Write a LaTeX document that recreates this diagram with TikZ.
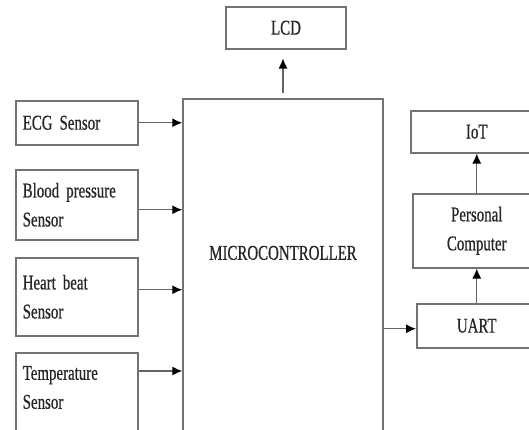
\documentclass[tikz,border=0pt]{standalone}
\usepackage{fontspec}
\setmainfont[FakeStretch=0.71,FakeBold=0.6]{Liberation Serif}
\usetikzlibrary{arrows.meta}
\newcommand\boxfont{\fontsize{21}{29}\selectfont\spaceskip=3.5pt\relax}

\begin{document}
\begin{tikzpicture}[x=1pt,y=-1pt,
    block/.style={draw=black!55,line width=1.5pt,text=black!85,
        font=\boxfont,inner sep=0pt},
    sensor/.style={block,anchor=north west,inner xsep=7pt,
        text width=108pt,align=left,minimum width=122pt},
    outbox/.style={block,anchor=north west,align=center},
    link/.style={-{Latex[length=10pt,width=9pt,fill=black,color=black]},draw=black!60,line width=1.3pt}]
\useasboundingbox (0,0) rectangle (529,429);
\clip (0,0) rectangle (529,429);

%\draw[help lines,step=50] (0,0) grid (529,429);
\node[block,anchor=north,minimum width=200pt,text height=161pt,text depth=200pt] (micro) at (283,98) {MICROCONTROLLER};
\node[block,anchor=north,minimum width=120pt,minimum height=42pt] (lcd) at (286,6) {LCD};

\node[sensor,minimum height=44pt] (ecg) at (15,100) {ECG Sensor};
\node[sensor,minimum height=70pt] (bp) at (15,169) {Blood pressure\\Sensor};
\node[sensor,minimum height=78pt] (heart) at (15,257) {Heart beat\\Sensor};
\node[sensor,text height=27pt,text depth=80pt] (temp) at (15,352) {Temperature\\Sensor};

\node[outbox,minimum width=132pt,minimum height=42pt] (iot) at (410,110) {IoT};
\node[outbox,minimum width=128pt,minimum height=74pt] (pc) at (412,193) {Personal\\Computer};
\node[outbox,minimum width=120pt,minimum height=44pt] (uart) at (416,303) {UART};

\draw[link] (ecg.east) -- (ecg.east -| micro.west);
\draw[link] ([yshift=-5pt]bp.east) -- ([yshift=-5pt]bp.east -| micro.west);
\draw[link] ([yshift=7pt]heart.east) -- ([yshift=7pt]heart.east -| micro.west);
\draw[link] ([yshift=-19pt]temp.north east) -- ([yshift=-19pt]temp.north east -| micro.west);

\draw[link,shorten <=5pt,shorten >=9pt] (micro.north) -- (micro.north |- lcd.south);
\draw[link] ([yshift=-3pt]uart.west -| micro.east) -- ([yshift=-3pt]uart.west);
\draw[link] (uart) -- (pc);
\draw[link] (pc) -- (iot);
\end{tikzpicture}
\end{document}
